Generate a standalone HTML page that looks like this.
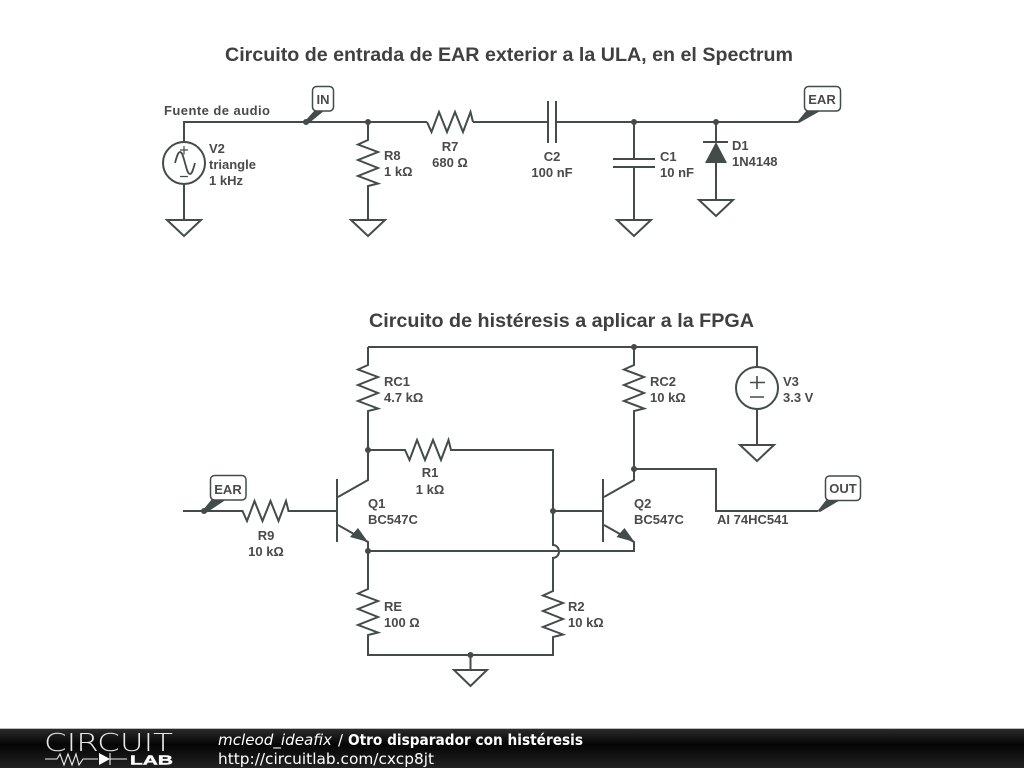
<!DOCTYPE html>
<html><head><meta charset="utf-8"><title>Circuito</title>
<style>
html,body{margin:0;padding:0;background:#fff;width:1024px;height:768px;overflow:hidden}
svg{display:block}
.w{fill:none;stroke:#434b4b;stroke-width:2;stroke-linejoin:miter}
.t{font-family:"Liberation Sans",sans-serif;font-size:13px;font-weight:bold;fill:#4a4a4a}
.m{text-anchor:middle}
.h{font-family:"Liberation Sans",sans-serif;font-size:19.5px;font-weight:bold;fill:#404040}
.b{fill:#fff;stroke:#434b4b;stroke-width:1.5}
.f{fill:#434b4b}
.ft{font-family:"DejaVu Sans",sans-serif;font-size:15px;fill:#fff}
</style></head><body>
<svg width="1024" height="768" viewBox="0 0 1024 768" xmlns="http://www.w3.org/2000/svg">
<defs><linearGradient id="g" x1="0" y1="0" x2="0" y2="1"><stop offset="0" stop-color="#2a2a2a"/><stop offset=".4" stop-color="#050505"/><stop offset="1" stop-color="#222"/></linearGradient></defs>
<rect width="1024" height="768" fill="#fff"/>
<text class="h" x="225" y="61" textLength="568" lengthAdjust="spacingAndGlyphs">Circuito de entrada de EAR exterior a la ULA, en el Spectrum</text>
<text class="h" x="369" y="327" textLength="385" lengthAdjust="spacingAndGlyphs">Circuito de histéresis a aplicar a la FPGA</text>

<!-- top circuit wires -->
<path class="w" d="M184 142V122H427M473 122H548M556 122H798"/>
<path class="w" d="M548 101V143M556 101V143"/>
<circle class="w" cx="184" cy="163" r="21"/>
<path class="w" d="M184 184V220M167 220H201L184 236Z"/>
<path d="M184 146V154.500M180 150H188M180 176.500H188" fill="none" stroke="#434b4b" stroke-width="1.2"/>
<path d="M175 163C177 156 178 152 180 152C182.500 152 183.500 158 185 163C186.500 168 187.500 174 190 174C192 174 193 170 195 163" fill="none" stroke="#434b4b" stroke-width="1.8"/>
<path class="w" d="M368 122V140L358 144.5L378 152L358 160L378 168L358 176L378 183.5L368 186V220M351 220H385L368 236Z"/>
<path class="w" d="M427 122L431.5 132L439 112L447 132L455 112L463 132L470.5 112L473 122"/>
<path class="w" d="M634 122V159M634 167V220M613 159H655M613 167H655M617 220H651L634 236Z"/>
<path class="w" d="M716 122V142M703 142H728M716 163V200M699 200H733L716 216Z"/>
<path class="f" d="M716 142L727 163H705Z"/>
<circle class="f" cx="368" cy="122" r="3"/><circle class="f" cx="634" cy="122" r="3"/><circle class="f" cx="716" cy="122" r="3"/><circle class="f" cx="306" cy="122" r="3"/>

<!-- top tags -->
<path class="f" d="M305 121L315 110H325L308 124Z"/>
<rect class="b" x="312.500" y="86.500" width="21" height="24.500" rx="4"/>
<text class="t m" x="323" y="104">IN</text>
<path class="f" d="M797 122L807 110H822L799 123Z"/>
<rect class="b" x="804.500" y="86.500" width="36" height="24.500" rx="4"/>
<text class="t m" x="822" y="104">EAR</text>

<!-- top labels -->
<text class="t" x="164" y="115" textLength="106">Fuente de audio</text>
<text class="t" x="209" y="153">V2</text><text class="t" x="209" y="169">triangle</text><text class="t" x="209" y="185">1 kHz</text>
<text class="t" x="384" y="160">R8</text><text class="t" x="384" y="176">1 kΩ</text>
<text class="t m" x="450" y="151">R7</text><text class="t m" x="450" y="167">680 Ω</text>
<text class="t m" x="552" y="161">C2</text><text class="t m" x="552" y="177">100 nF</text>
<text class="t" x="660" y="161">C1</text><text class="t" x="660" y="177">10 nF</text>
<text class="t" x="732" y="150">D1</text><text class="t" x="732" y="166">1N4148</text>

<!-- bottom circuit -->
<path class="w" d="M368 347H757V367"/>
<path class="w" d="M368 347V365L358 369.5L378 377L358 385L378 393L358 401L378 408.500L368 411V480L338 497"/>
<path class="w" d="M634 347V365L624 369.5L644 377L624 385L644 393L624 401L644 408.500L634 411V480L604 497"/>
<circle class="w" cx="757" cy="388" r="21"/>
<path class="w" d="M757 409V445M740 445H774L757 461Z"/>
<path d="M757 376V389M750 382.500H765M750 397H764" fill="none" stroke="#434b4b" stroke-width="1.6"/>
<path class="w" d="M368 450H405L409.5 460L417 440L425 460L433 440L441 460L448.500 440L451 450H553V545A6 6.500 0 0 1 553 558V591L543 595.500L563 603L543 611L563 619L543 627L563 634.500L553 637V655H368V635L378 632.500L358 625L378 617L358 609L378 601L358 593.500L368 589V542L338 525"/>
<path class="w" d="M470.500 655V670M454 670H487L470.500 686Z"/>
<path class="w" d="M368 551H634V542L604 525"/>
<path class="w" d="M337 479V542M603 479V542"/>
<path class="w" d="M183 511H242.500L247 521L254.500 501L262.500 521L270.500 501L278.500 521L286 501L288.500 511H337"/>
<path class="w" d="M553 511H603"/>
<path class="w" d="M634 469H716V511H818"/>
<path class="f" d="M368 542L350 537L358 528Z"/>
<path class="f" d="M634.500 542L616.500 537L624.500 528Z"/>
<circle class="f" cx="368" cy="450" r="3"/><circle class="f" cx="368" cy="551" r="3"/><circle class="f" cx="634" cy="347" r="3"/><circle class="f" cx="634" cy="469" r="3"/><circle class="f" cx="553" cy="511" r="3"/><circle class="f" cx="470.500" cy="655" r="3"/><circle class="f" cx="204" cy="511" r="3"/>

<!-- bottom tags -->
<path class="f" d="M203 510L212 499H227L206 513Z"/>
<rect class="b" x="210.500" y="475.500" width="35.500" height="24.500" rx="4"/>
<text class="t m" x="228" y="494">EAR</text>
<path class="f" d="M817.500 511L827 499H842L820 512Z"/>
<rect class="b" x="825.500" y="476" width="35" height="24.500" rx="4"/>
<text class="t m" x="843" y="493">OUT</text>

<!-- bottom labels -->
<text class="t" x="384" y="386">RC1</text><text class="t" x="384" y="402">4.7 kΩ</text>
<text class="t" x="650" y="386">RC2</text><text class="t" x="650" y="402">10 kΩ</text>
<text class="t" x="783" y="386">V3</text><text class="t" x="783" y="402">3.3 V</text>
<text class="t m" x="430" y="477">R1</text><text class="t m" x="430" y="494">1 kΩ</text>
<text class="t m" x="266" y="540">R9</text><text class="t m" x="266" y="556">10 kΩ</text>
<text class="t" x="368" y="508">Q1</text><text class="t" x="368" y="524">BC547C</text>
<text class="t" x="634" y="508">Q2</text><text class="t" x="634" y="524">BC547C</text>
<text class="t" x="717" y="524">AI 74HC541</text>
<text class="t" x="384" y="611">RE</text><text class="t" x="384" y="627">100 Ω</text>
<text class="t" x="568" y="611">R2</text><text class="t" x="568" y="627">10 kΩ</text>

<!-- footer -->
<rect x="0" y="728" width="1024" height="1" fill="#bbb"/>
<rect x="0" y="729" width="1024" height="39" fill="url(#g)"/>
<text x="44" y="751" font-family="'DejaVu Sans','Liberation Sans',sans-serif" font-weight="200" font-size="25" fill="#e8e8e8" textLength="129" lengthAdjust="spacingAndGlyphs">CIRCUIT</text>
<text x="130" y="764.500" font-family="'Liberation Sans',sans-serif" font-size="12.500" font-weight="bold" fill="#fff" textLength="43" lengthAdjust="spacingAndGlyphs" stroke="#fff" stroke-width=".4">LAB</text>
<path d="M45 759H57L60 754L64 765L68 754L72 765L76 754L79 765L83 759H98M110 759H127M110 753V765" fill="none" stroke="#eee" stroke-width="1.1"/>
<path d="M99 753L110 759L99 765Z" fill="#fff"/>
<text class="ft" x="218" y="745" font-style="italic" textLength="114" lengthAdjust="spacingAndGlyphs">mcleod_ideafix</text>
<text class="ft" x="338" y="745">/</text>
<text class="ft" x="348" y="745" font-weight="bold" textLength="235" lengthAdjust="spacingAndGlyphs">Otro disparador con histéresis</text>
<text class="ft" x="218" y="764" textLength="216" lengthAdjust="spacingAndGlyphs">http://circuitlab.com/cxcp8jt</text>
</svg>
</body></html>
